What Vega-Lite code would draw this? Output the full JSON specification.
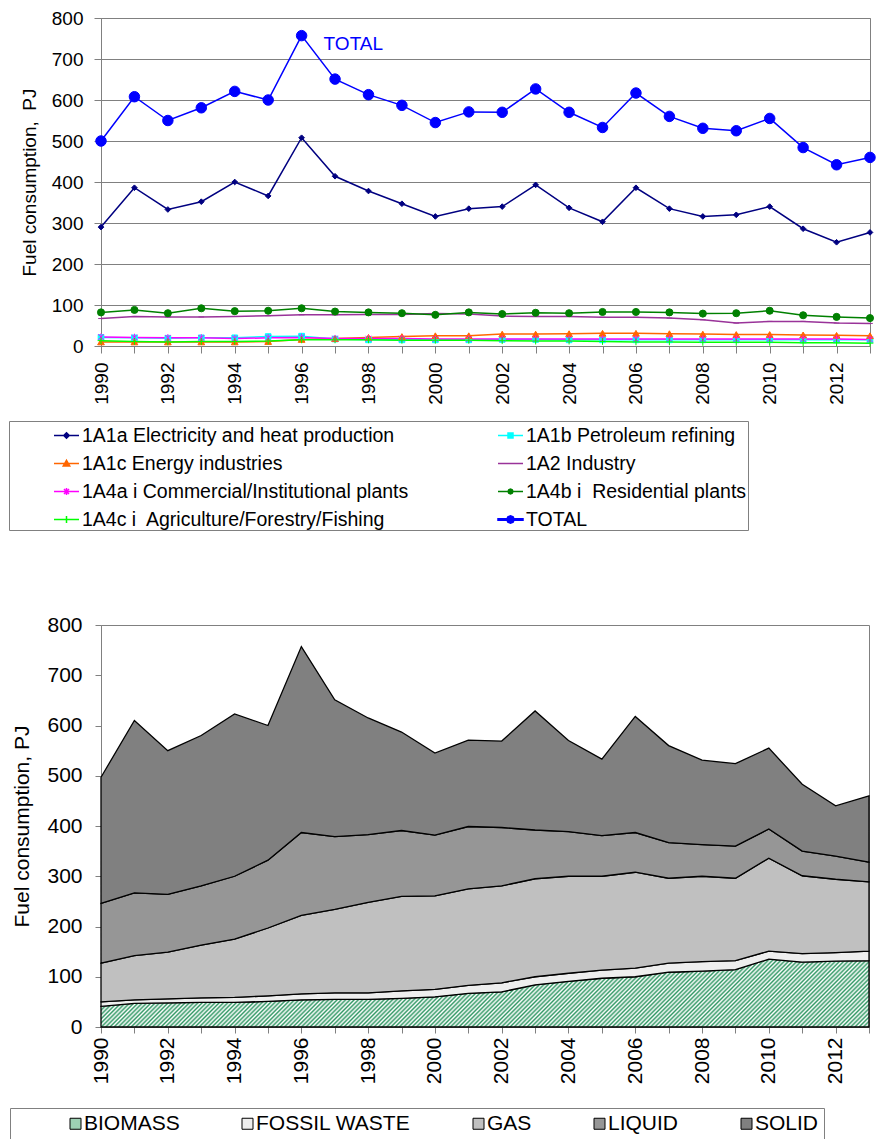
{
 "$schema": "https://vega.github.io/schema/vega-lite/v6.json",
 "padding": {"left": 8, "top": 8, "right": 2, "bottom": 0},
 "bounds": "flush",
 "spacing": 279,
 "resolve": {"scale": {"color": "independent", "stroke": "independent", "shape": "independent", "fill": "independent"}, "legend": {"color": "independent", "stroke": "independent", "shape": "independent", "fill": "independent"}},
 "config": {
  "font": "Liberation Sans",
  "view": {"stroke": "#808080", "strokeWidth": 1},
  "axis": {"labelFont": "Liberation Sans", "titleFont": "Liberation Sans", "labelColor": "#000000", "titleColor": "#000000", "titleFontWeight": "normal", "domainColor": "#808080", "tickColor": "#808080", "labelOverlap": false},
  "legend": {"labelFont": "Liberation Sans", "labelColor": "#000000"}
 },
 "datasets": {
  "fuel": [
   {"year":1990,"series":"1A1a Electricity and heat production","value":290},{"year":1990,"series":"1A1b Petroleum refining","value":21},{"year":1990,"series":"1A1c Energy industries","value":10},{"year":1990,"series":"1A2 Industry","value":67},{"year":1990,"series":"1A4a i Commercial/Institutional plants","value":22},{"year":1990,"series":"1A4b i  Residential plants","value":82},{"year":1990,"series":"1A4c i  Agriculture/Forestry/Fishing","value":13},{"year":1990,"series":"TOTAL","value":500},
   {"year":1991,"series":"1A1a Electricity and heat production","value":386},{"year":1991,"series":"1A1b Petroleum refining","value":20},{"year":1991,"series":"1A1c Energy industries","value":10},{"year":1991,"series":"1A2 Industry","value":72},{"year":1991,"series":"1A4a i Commercial/Institutional plants","value":21},{"year":1991,"series":"1A4b i  Residential plants","value":88},{"year":1991,"series":"1A4c i  Agriculture/Forestry/Fishing","value":11},{"year":1991,"series":"TOTAL","value":608},
   {"year":1992,"series":"1A1a Electricity and heat production","value":333},{"year":1992,"series":"1A1b Petroleum refining","value":19},{"year":1992,"series":"1A1c Energy industries","value":10},{"year":1992,"series":"1A2 Industry","value":71},{"year":1992,"series":"1A4a i Commercial/Institutional plants","value":20},{"year":1992,"series":"1A4b i  Residential plants","value":80},{"year":1992,"series":"1A4c i  Agriculture/Forestry/Fishing","value":10},{"year":1992,"series":"TOTAL","value":550},
   {"year":1993,"series":"1A1a Electricity and heat production","value":352},{"year":1993,"series":"1A1b Petroleum refining","value":20},{"year":1993,"series":"1A1c Energy industries","value":10},{"year":1993,"series":"1A2 Industry","value":71},{"year":1993,"series":"1A4a i Commercial/Institutional plants","value":20},{"year":1993,"series":"1A4b i  Residential plants","value":92},{"year":1993,"series":"1A4c i  Agriculture/Forestry/Fishing","value":11},{"year":1993,"series":"TOTAL","value":581},
   {"year":1994,"series":"1A1a Electricity and heat production","value":400},{"year":1994,"series":"1A1b Petroleum refining","value":20},{"year":1994,"series":"1A1c Energy industries","value":10},{"year":1994,"series":"1A2 Industry","value":72},{"year":1994,"series":"1A4a i Commercial/Institutional plants","value":18},{"year":1994,"series":"1A4b i  Residential plants","value":85},{"year":1994,"series":"1A4c i  Agriculture/Forestry/Fishing","value":11},{"year":1994,"series":"TOTAL","value":621},
   {"year":1995,"series":"1A1a Electricity and heat production","value":366},{"year":1995,"series":"1A1b Petroleum refining","value":23},{"year":1995,"series":"1A1c Energy industries","value":11},{"year":1995,"series":"1A2 Industry","value":74},{"year":1995,"series":"1A4a i Commercial/Institutional plants","value":20},{"year":1995,"series":"1A4b i  Residential plants","value":86},{"year":1995,"series":"1A4c i  Agriculture/Forestry/Fishing","value":12},{"year":1995,"series":"TOTAL","value":600},
   {"year":1996,"series":"1A1a Electricity and heat production","value":508},{"year":1996,"series":"1A1b Petroleum refining","value":24},{"year":1996,"series":"1A1c Energy industries","value":16},{"year":1996,"series":"1A2 Industry","value":76},{"year":1996,"series":"1A4a i Commercial/Institutional plants","value":21},{"year":1996,"series":"1A4b i  Residential plants","value":92},{"year":1996,"series":"1A4c i  Agriculture/Forestry/Fishing","value":15},{"year":1996,"series":"TOTAL","value":757},
   {"year":1997,"series":"1A1a Electricity and heat production","value":414},{"year":1997,"series":"1A1b Petroleum refining","value":17},{"year":1997,"series":"1A1c Energy industries","value":18},{"year":1997,"series":"1A2 Industry","value":76},{"year":1997,"series":"1A4a i Commercial/Institutional plants","value":18},{"year":1997,"series":"1A4b i  Residential plants","value":84},{"year":1997,"series":"1A4c i  Agriculture/Forestry/Fishing","value":15},{"year":1997,"series":"TOTAL","value":651},
   {"year":1998,"series":"1A1a Electricity and heat production","value":378},{"year":1998,"series":"1A1b Petroleum refining","value":15},{"year":1998,"series":"1A1c Energy industries","value":21},{"year":1998,"series":"1A2 Industry","value":77},{"year":1998,"series":"1A4a i Commercial/Institutional plants","value":18},{"year":1998,"series":"1A4b i  Residential plants","value":82},{"year":1998,"series":"1A4c i  Agriculture/Forestry/Fishing","value":15},{"year":1998,"series":"TOTAL","value":613},
   {"year":1999,"series":"1A1a Electricity and heat production","value":347},{"year":1999,"series":"1A1b Petroleum refining","value":15},{"year":1999,"series":"1A1c Energy industries","value":23},{"year":1999,"series":"1A2 Industry","value":77},{"year":1999,"series":"1A4a i Commercial/Institutional plants","value":18},{"year":1999,"series":"1A4b i  Residential plants","value":80},{"year":1999,"series":"1A4c i  Agriculture/Forestry/Fishing","value":14},{"year":1999,"series":"TOTAL","value":587},
   {"year":2000,"series":"1A1a Electricity and heat production","value":316},{"year":2000,"series":"1A1b Petroleum refining","value":15},{"year":2000,"series":"1A1c Energy industries","value":25},{"year":2000,"series":"1A2 Industry","value":79},{"year":2000,"series":"1A4a i Commercial/Institutional plants","value":17},{"year":2000,"series":"1A4b i  Residential plants","value":76},{"year":2000,"series":"1A4c i  Agriculture/Forestry/Fishing","value":14},{"year":2000,"series":"TOTAL","value":545},
   {"year":2001,"series":"1A1a Electricity and heat production","value":335},{"year":2001,"series":"1A1b Petroleum refining","value":15},{"year":2001,"series":"1A1c Energy industries","value":25},{"year":2001,"series":"1A2 Industry","value":78},{"year":2001,"series":"1A4a i Commercial/Institutional plants","value":17},{"year":2001,"series":"1A4b i  Residential plants","value":82},{"year":2001,"series":"1A4c i  Agriculture/Forestry/Fishing","value":14},{"year":2001,"series":"TOTAL","value":571},
   {"year":2002,"series":"1A1a Electricity and heat production","value":340},{"year":2002,"series":"1A1b Petroleum refining","value":16},{"year":2002,"series":"1A1c Energy industries","value":29},{"year":2002,"series":"1A2 Industry","value":73},{"year":2002,"series":"1A4a i Commercial/Institutional plants","value":17},{"year":2002,"series":"1A4b i  Residential plants","value":78},{"year":2002,"series":"1A4c i  Agriculture/Forestry/Fishing","value":13},{"year":2002,"series":"TOTAL","value":570},
   {"year":2003,"series":"1A1a Electricity and heat production","value":393},{"year":2003,"series":"1A1b Petroleum refining","value":16},{"year":2003,"series":"1A1c Energy industries","value":29},{"year":2003,"series":"1A2 Industry","value":72},{"year":2003,"series":"1A4a i Commercial/Institutional plants","value":17},{"year":2003,"series":"1A4b i  Residential plants","value":81},{"year":2003,"series":"1A4c i  Agriculture/Forestry/Fishing","value":12},{"year":2003,"series":"TOTAL","value":627},
   {"year":2004,"series":"1A1a Electricity and heat production","value":337},{"year":2004,"series":"1A1b Petroleum refining","value":15},{"year":2004,"series":"1A1c Energy industries","value":30},{"year":2004,"series":"1A2 Industry","value":72},{"year":2004,"series":"1A4a i Commercial/Institutional plants","value":17},{"year":2004,"series":"1A4b i  Residential plants","value":80},{"year":2004,"series":"1A4c i  Agriculture/Forestry/Fishing","value":12},{"year":2004,"series":"TOTAL","value":570},
   {"year":2005,"series":"1A1a Electricity and heat production","value":303},{"year":2005,"series":"1A1b Petroleum refining","value":15},{"year":2005,"series":"1A1c Energy industries","value":31},{"year":2005,"series":"1A2 Industry","value":70},{"year":2005,"series":"1A4a i Commercial/Institutional plants","value":17},{"year":2005,"series":"1A4b i  Residential plants","value":83},{"year":2005,"series":"1A4c i  Agriculture/Forestry/Fishing","value":11},{"year":2005,"series":"TOTAL","value":533},
   {"year":2006,"series":"1A1a Electricity and heat production","value":386},{"year":2006,"series":"1A1b Petroleum refining","value":15},{"year":2006,"series":"1A1c Energy industries","value":31},{"year":2006,"series":"1A2 Industry","value":70},{"year":2006,"series":"1A4a i Commercial/Institutional plants","value":17},{"year":2006,"series":"1A4b i  Residential plants","value":83},{"year":2006,"series":"1A4c i  Agriculture/Forestry/Fishing","value":10},{"year":2006,"series":"TOTAL","value":617},
   {"year":2007,"series":"1A1a Electricity and heat production","value":335},{"year":2007,"series":"1A1b Petroleum refining","value":15},{"year":2007,"series":"1A1c Energy industries","value":30},{"year":2007,"series":"1A2 Industry","value":68},{"year":2007,"series":"1A4a i Commercial/Institutional plants","value":17},{"year":2007,"series":"1A4b i  Residential plants","value":82},{"year":2007,"series":"1A4c i  Agriculture/Forestry/Fishing","value":10},{"year":2007,"series":"TOTAL","value":560},
   {"year":2008,"series":"1A1a Electricity and heat production","value":316},{"year":2008,"series":"1A1b Petroleum refining","value":15},{"year":2008,"series":"1A1c Energy industries","value":29},{"year":2008,"series":"1A2 Industry","value":64},{"year":2008,"series":"1A4a i Commercial/Institutional plants","value":17},{"year":2008,"series":"1A4b i  Residential plants","value":79},{"year":2008,"series":"1A4c i  Agriculture/Forestry/Fishing","value":9},{"year":2008,"series":"TOTAL","value":531},
   {"year":2009,"series":"1A1a Electricity and heat production","value":320},{"year":2009,"series":"1A1b Petroleum refining","value":15},{"year":2009,"series":"1A1c Energy industries","value":28},{"year":2009,"series":"1A2 Industry","value":56},{"year":2009,"series":"1A4a i Commercial/Institutional plants","value":17},{"year":2009,"series":"1A4b i  Residential plants","value":80},{"year":2009,"series":"1A4c i  Agriculture/Forestry/Fishing","value":9},{"year":2009,"series":"TOTAL","value":525},
   {"year":2010,"series":"1A1a Electricity and heat production","value":340},{"year":2010,"series":"1A1b Petroleum refining","value":15},{"year":2010,"series":"1A1c Energy industries","value":28},{"year":2010,"series":"1A2 Industry","value":60},{"year":2010,"series":"1A4a i Commercial/Institutional plants","value":17},{"year":2010,"series":"1A4b i  Residential plants","value":86},{"year":2010,"series":"1A4c i  Agriculture/Forestry/Fishing","value":9},{"year":2010,"series":"TOTAL","value":555},
   {"year":2011,"series":"1A1a Electricity and heat production","value":286},{"year":2011,"series":"1A1b Petroleum refining","value":15},{"year":2011,"series":"1A1c Energy industries","value":27},{"year":2011,"series":"1A2 Industry","value":60},{"year":2011,"series":"1A4a i Commercial/Institutional plants","value":17},{"year":2011,"series":"1A4b i  Residential plants","value":75},{"year":2011,"series":"1A4c i  Agriculture/Forestry/Fishing","value":8},{"year":2011,"series":"TOTAL","value":484},
   {"year":2012,"series":"1A1a Electricity and heat production","value":253},{"year":2012,"series":"1A1b Petroleum refining","value":15},{"year":2012,"series":"1A1c Energy industries","value":26},{"year":2012,"series":"1A2 Industry","value":56},{"year":2012,"series":"1A4a i Commercial/Institutional plants","value":17},{"year":2012,"series":"1A4b i  Residential plants","value":71},{"year":2012,"series":"1A4c i  Agriculture/Forestry/Fishing","value":8},{"year":2012,"series":"TOTAL","value":442},
   {"year":2013,"series":"1A1a Electricity and heat production","value":277},{"year":2013,"series":"1A1b Petroleum refining","value":15},{"year":2013,"series":"1A1c Energy industries","value":25},{"year":2013,"series":"1A2 Industry","value":55},{"year":2013,"series":"1A4a i Commercial/Institutional plants","value":16},{"year":2013,"series":"1A4b i  Residential plants","value":68},{"year":2013,"series":"1A4c i  Agriculture/Forestry/Fishing","value":7},{"year":2013,"series":"TOTAL","value":460}
  ],
  "mix": [
   {"year":1990,"fuel":"BIOMASS","pj":41},{"year":1990,"fuel":"FOSSIL WASTE","pj":9},{"year":1990,"fuel":"GAS","pj":77},{"year":1990,"fuel":"LIQUID","pj":119},{"year":1990,"fuel":"SOLID","pj":251},
   {"year":1991,"fuel":"BIOMASS","pj":47},{"year":1991,"fuel":"FOSSIL WASTE","pj":7},{"year":1991,"fuel":"GAS","pj":88},{"year":1991,"fuel":"LIQUID","pj":125},{"year":1991,"fuel":"SOLID","pj":343},
   {"year":1992,"fuel":"BIOMASS","pj":48},{"year":1992,"fuel":"FOSSIL WASTE","pj":8},{"year":1992,"fuel":"GAS","pj":93},{"year":1992,"fuel":"LIQUID","pj":115},{"year":1992,"fuel":"SOLID","pj":286},
   {"year":1993,"fuel":"BIOMASS","pj":49},{"year":1993,"fuel":"FOSSIL WASTE","pj":9},{"year":1993,"fuel":"GAS","pj":105},{"year":1993,"fuel":"LIQUID","pj":118},{"year":1993,"fuel":"SOLID","pj":299},
   {"year":1994,"fuel":"BIOMASS","pj":49},{"year":1994,"fuel":"FOSSIL WASTE","pj":10},{"year":1994,"fuel":"GAS","pj":116},{"year":1994,"fuel":"LIQUID","pj":125},{"year":1994,"fuel":"SOLID","pj":323},
   {"year":1995,"fuel":"BIOMASS","pj":51},{"year":1995,"fuel":"FOSSIL WASTE","pj":11},{"year":1995,"fuel":"GAS","pj":135},{"year":1995,"fuel":"LIQUID","pj":135},{"year":1995,"fuel":"SOLID","pj":268},
   {"year":1996,"fuel":"BIOMASS","pj":54},{"year":1996,"fuel":"FOSSIL WASTE","pj":12},{"year":1996,"fuel":"GAS","pj":156},{"year":1996,"fuel":"LIQUID","pj":165},{"year":1996,"fuel":"SOLID","pj":370},
   {"year":1997,"fuel":"BIOMASS","pj":55},{"year":1997,"fuel":"FOSSIL WASTE","pj":13},{"year":1997,"fuel":"GAS","pj":166},{"year":1997,"fuel":"LIQUID","pj":145},{"year":1997,"fuel":"SOLID","pj":272},
   {"year":1998,"fuel":"BIOMASS","pj":55},{"year":1998,"fuel":"FOSSIL WASTE","pj":13},{"year":1998,"fuel":"GAS","pj":180},{"year":1998,"fuel":"LIQUID","pj":135},{"year":1998,"fuel":"SOLID","pj":232},
   {"year":1999,"fuel":"BIOMASS","pj":57},{"year":1999,"fuel":"FOSSIL WASTE","pj":15},{"year":1999,"fuel":"GAS","pj":188},{"year":1999,"fuel":"LIQUID","pj":131},{"year":1999,"fuel":"SOLID","pj":196},
   {"year":2000,"fuel":"BIOMASS","pj":60},{"year":2000,"fuel":"FOSSIL WASTE","pj":15},{"year":2000,"fuel":"GAS","pj":186},{"year":2000,"fuel":"LIQUID","pj":121},{"year":2000,"fuel":"SOLID","pj":163},
   {"year":2001,"fuel":"BIOMASS","pj":67},{"year":2001,"fuel":"FOSSIL WASTE","pj":16},{"year":2001,"fuel":"GAS","pj":192},{"year":2001,"fuel":"LIQUID","pj":124},{"year":2001,"fuel":"SOLID","pj":172},
   {"year":2002,"fuel":"BIOMASS","pj":70},{"year":2002,"fuel":"FOSSIL WASTE","pj":18},{"year":2002,"fuel":"GAS","pj":193},{"year":2002,"fuel":"LIQUID","pj":116},{"year":2002,"fuel":"SOLID","pj":172},
   {"year":2003,"fuel":"BIOMASS","pj":84},{"year":2003,"fuel":"FOSSIL WASTE","pj":16},{"year":2003,"fuel":"GAS","pj":195},{"year":2003,"fuel":"LIQUID","pj":97},{"year":2003,"fuel":"SOLID","pj":237},
   {"year":2004,"fuel":"BIOMASS","pj":91},{"year":2004,"fuel":"FOSSIL WASTE","pj":16},{"year":2004,"fuel":"GAS","pj":193},{"year":2004,"fuel":"LIQUID","pj":89},{"year":2004,"fuel":"SOLID","pj":181},
   {"year":2005,"fuel":"BIOMASS","pj":97},{"year":2005,"fuel":"FOSSIL WASTE","pj":16},{"year":2005,"fuel":"GAS","pj":187},{"year":2005,"fuel":"LIQUID","pj":81},{"year":2005,"fuel":"SOLID","pj":152},
   {"year":2006,"fuel":"BIOMASS","pj":100},{"year":2006,"fuel":"FOSSIL WASTE","pj":17},{"year":2006,"fuel":"GAS","pj":191},{"year":2006,"fuel":"LIQUID","pj":79},{"year":2006,"fuel":"SOLID","pj":231},
   {"year":2007,"fuel":"BIOMASS","pj":109},{"year":2007,"fuel":"FOSSIL WASTE","pj":18},{"year":2007,"fuel":"GAS","pj":169},{"year":2007,"fuel":"LIQUID","pj":71},{"year":2007,"fuel":"SOLID","pj":193},
   {"year":2008,"fuel":"BIOMASS","pj":111},{"year":2008,"fuel":"FOSSIL WASTE","pj":19},{"year":2008,"fuel":"GAS","pj":170},{"year":2008,"fuel":"LIQUID","pj":63},{"year":2008,"fuel":"SOLID","pj":168},
   {"year":2009,"fuel":"BIOMASS","pj":114},{"year":2009,"fuel":"FOSSIL WASTE","pj":18},{"year":2009,"fuel":"GAS","pj":164},{"year":2009,"fuel":"LIQUID","pj":64},{"year":2009,"fuel":"SOLID","pj":164},
   {"year":2010,"fuel":"BIOMASS","pj":135},{"year":2010,"fuel":"FOSSIL WASTE","pj":16},{"year":2010,"fuel":"GAS","pj":185},{"year":2010,"fuel":"LIQUID","pj":58},{"year":2010,"fuel":"SOLID","pj":161},
   {"year":2011,"fuel":"BIOMASS","pj":129},{"year":2011,"fuel":"FOSSIL WASTE","pj":17},{"year":2011,"fuel":"GAS","pj":155},{"year":2011,"fuel":"LIQUID","pj":49},{"year":2011,"fuel":"SOLID","pj":133},
   {"year":2012,"fuel":"BIOMASS","pj":131},{"year":2012,"fuel":"FOSSIL WASTE","pj":17},{"year":2012,"fuel":"GAS","pj":146},{"year":2012,"fuel":"LIQUID","pj":46},{"year":2012,"fuel":"SOLID","pj":100},
   {"year":2013,"fuel":"BIOMASS","pj":132},{"year":2013,"fuel":"FOSSIL WASTE","pj":19},{"year":2013,"fuel":"GAS","pj":138},{"year":2013,"fuel":"LIQUID","pj":39},{"year":2013,"fuel":"SOLID","pj":132}
  ]
 },
 "vconcat": [
  {
   "width": 769,
   "height": 328,
   "data": {"name": "fuel"},
   "resolve": {"scale": {"color": "independent", "stroke": "independent", "shape": "independent"}},
   "encoding": {
    "x": {"field": "year", "type": "quantitative", "scale": {"domain": [1990, 2013], "nice": false, "zero": false},
     "axis": {"values": [1990,1991,1992,1993,1994,1995,1996,1997,1998,1999,2000,2001,2002,2003,2004,2005,2006,2007,2008,2009,2010,2011,2012,2013], "format": "d", "labelExpr": "datum.value % 2 === 0 ? datum.label : ''", "labelAngle": -90, "labelFontSize": 19, "tickSize": 7, "labelPadding": 9, "grid": false, "title": null}},
    "y": {"field": "value", "type": "quantitative", "scale": {"domain": [0, 800], "nice": false},
     "axis": {"values": [0,100,200,300,400,500,600,700,800], "grid": true, "gridColor": "#808080", "labelFontSize": 19, "tickSize": 7, "labelPadding": 11, "title": "Fuel consumption,\u00a0 PJ", "titleFontSize": 19, "titlePadding": 12}},
    "color": {"field": "series", "type": "nominal",
     "scale": {"domain": ["1A1a Electricity and heat production","1A1b Petroleum refining","1A1c Energy industries","1A2 Industry","1A4a i Commercial/Institutional plants","1A4b i  Residential plants","1A4c i  Agriculture/Forestry/Fishing","TOTAL"],
               "range": ["#000080","#00FFFF","#FF6600","#993399","#FF00FF","#008000","#00FF00","#0000FF"]},
     "legend": null}
   },
   "layer": [
    {"mark": {"type": "line", "strokeWidth": 1.5},
     "encoding": {"strokeWidth": {"condition": {"test": "datum.series === 'TOTAL'", "value": 3}, "value": 1.5}}},
    {"mark": {"type": "point", "filled": true, "opacity": 1, "strokeWidth": 1},
     "encoding": {
      "stroke": {"field": "series", "type": "nominal", "legend": null,
       "scale": {"domain": ["1A1a Electricity and heat production","1A1b Petroleum refining","1A1c Energy industries","1A2 Industry","1A4a i Commercial/Institutional plants","1A4b i  Residential plants","1A4c i  Agriculture/Forestry/Fishing","TOTAL"],
                 "range": ["#000080","#00FFFF","#FF6600","#993399","#FF00FF","#008000","#00FF00","#0000FF"]}},
      "shape": {"field": "series", "type": "nominal", "legend": null,
       "scale": {"domain": ["1A1a Electricity and heat production","1A1b Petroleum refining","1A1c Energy industries","1A2 Industry","1A4a i Commercial/Institutional plants","1A4b i  Residential plants","1A4c i  Agriculture/Forestry/Fishing","TOTAL"],
                 "range": ["diamond","square","triangle-up","stroke","M-1,-1L1,1M-1,1L1,-1M0,-1.3V1.3","circle","M-1.2,0H1.2M0,-1.2V1.2","circle"]}},
      "size": {"condition": [
        {"test": "datum.series === 'TOTAL'", "value": 110},
        {"test": "datum.series === '1A4b i  Residential plants'", "value": 50},
        {"test": "datum.series === '1A1c Energy industries'", "value": 45}
       ], "value": 32}
     }},
    {"transform": [{"filter": "datum.series === 'TOTAL' && datum.year === 1996"}],
     "mark": {"type": "text", "align": "left", "baseline": "middle", "dx": 22, "dy": 8, "fontSize": 19, "font": "Liberation Sans"},
     "encoding": {"text": {"field": "series"}}},
    {"transform": [{"filter": "datum.year < 0"}],
     "mark": {"type": "point", "filled": true, "opacity": 1, "strokeWidth": 1.5},
     "encoding": {
      "color": {"field": "series", "type": "nominal",
       "scale": {"domain": ["1A1a Electricity and heat production","1A1b Petroleum refining","1A1c Energy industries","1A2 Industry","1A4a i Commercial/Institutional plants","1A4b i  Residential plants","1A4c i  Agriculture/Forestry/Fishing","TOTAL"],
                 "range": ["#000080","#00FFFF","#FF6600","#993399","#FF00FF","#008000","#00FF00","#0000FF"]},
       "legend": {"title": null, "orient": "none", "legendX": -92, "legendY": 403, "direction": "horizontal", "columns": 2,
        "padding": 1, "strokeColor": "#808080", "fillColor": "#ffffff",
        "labelFontSize": 19.5, "labelLimit": 900, "symbolSize": 625, "symbolStrokeWidth": 1.5, "symbolOffset": 43, "labelOffset": 2,
        "rowPadding": 5, "columnPadding": 45,
        "labelExpr": "replace(datum.label, '  ', '\u00a0 ')"}},
      "stroke": {"field": "series", "type": "nominal",
       "scale": {"domain": ["1A1a Electricity and heat production","1A1b Petroleum refining","1A1c Energy industries","1A2 Industry","1A4a i Commercial/Institutional plants","1A4b i  Residential plants","1A4c i  Agriculture/Forestry/Fishing","TOTAL"],
                 "range": ["#000080","#00FFFF","#FF6600","#993399","#FF00FF","#008000","#00FF00","#0000FF"]}},
      "shape": {"field": "series", "type": "nominal",
       "scale": {"domain": ["1A1a Electricity and heat production","1A1b Petroleum refining","1A1c Energy industries","1A2 Industry","1A4a i Commercial/Institutional plants","1A4b i  Residential plants","1A4c i  Agriculture/Forestry/Fishing","TOTAL"],
                 "range": [
                  "M-1,0H1M0,-0.22L0.22,0L0,0.22L-0.22,0Z",
                  "M-1,0H1M-0.2,-0.2H0.2V0.2H-0.2Z",
                  "M-1,0H1M0,-0.26L0.26,0.2H-0.26Z",
                  "M-1,0H1",
                  "M-1,0H1M-0.2,-0.2L0.2,0.2M-0.2,0.2L0.2,-0.2M0,-0.28V0.28",
                  "M-1,0H1M0.2,0L0.14,0.14L0,0.2L-0.14,0.14L-0.2,0L-0.14,-0.14L0,-0.2L0.14,-0.14Z",
                  "M-1,0H1M0,-0.28V0.28",
                  "M-1,-0.06H1V0.06H-1ZM0.3,0L0.21,0.21L0,0.3L-0.21,0.21L-0.3,0L-0.21,-0.21L0,-0.3L0.21,-0.21Z"
                 ]}}
     }}
   ]
  },
  {
   "width": 768,
   "height": 402,
   "data": {"name": "mix"},
   "mark": {"type": "area", "stroke": "#000000", "strokeWidth": 1.3, "opacity": 1},
   "encoding": {
    "x": {"field": "year", "type": "quantitative", "scale": {"domain": [1990, 2013], "nice": false, "zero": false},
     "axis": {"values": [1990,1991,1992,1993,1994,1995,1996,1997,1998,1999,2000,2001,2002,2003,2004,2005,2006,2007,2008,2009,2010,2011,2012,2013], "format": "d", "labelExpr": "datum.value % 2 === 0 ? datum.label : ''", "labelAngle": -90, "labelFontSize": 21, "tickSize": 6, "labelPadding": 4, "grid": false, "title": null}},
    "y": {"field": "pj", "type": "quantitative", "stack": "zero", "scale": {"domain": [0, 800], "nice": false},
     "axis": {"values": [0,100,200,300,400,500,600,700,800], "grid": false, "labelFontSize": 21, "tickSize": 6, "labelPadding": 13, "title": "Fuel consumption, PJ", "titleFontSize": 21, "titlePadding": 14}},
    "order": {"field": "fuel", "type": "ordinal", "sort": "ascending"},
    "fill": {
     "condition": {"test": "datum.fuel === 'BIOMASS'", "value": {"gradient": "linear", "x1": 0, "y1": 0, "x2": 1.1, "y2": 0.097, "stops": [
      {"offset":0,"color":"#396"},{"offset":0.0025,"color":"#fff"},{"offset":0.005,"color":"#396"},{"offset":0.0075,"color":"#fff"},
      {"offset":0.01,"color":"#396"},{"offset":0.0125,"color":"#fff"},{"offset":0.015,"color":"#396"},{"offset":0.0175,"color":"#fff"},
      {"offset":0.02,"color":"#396"},{"offset":0.0225,"color":"#fff"},{"offset":0.025,"color":"#396"},{"offset":0.0275,"color":"#fff"},
      {"offset":0.03,"color":"#396"},{"offset":0.0325,"color":"#fff"},{"offset":0.035,"color":"#396"},{"offset":0.0375,"color":"#fff"},
      {"offset":0.04,"color":"#396"},{"offset":0.0425,"color":"#fff"},{"offset":0.045,"color":"#396"},{"offset":0.0475,"color":"#fff"},
      {"offset":0.05,"color":"#396"},{"offset":0.0525,"color":"#fff"},{"offset":0.055,"color":"#396"},{"offset":0.0575,"color":"#fff"},
      {"offset":0.06,"color":"#396"},{"offset":0.0625,"color":"#fff"},{"offset":0.065,"color":"#396"},{"offset":0.0675,"color":"#fff"},
      {"offset":0.07,"color":"#396"},{"offset":0.0725,"color":"#fff"},{"offset":0.075,"color":"#396"},{"offset":0.0775,"color":"#fff"},
      {"offset":0.08,"color":"#396"},{"offset":0.0825,"color":"#fff"},{"offset":0.085,"color":"#396"},{"offset":0.0875,"color":"#fff"},
      {"offset":0.09,"color":"#396"},{"offset":0.0925,"color":"#fff"},{"offset":0.095,"color":"#396"},{"offset":0.0975,"color":"#fff"},
      {"offset":0.10,"color":"#396"},{"offset":0.1025,"color":"#fff"},{"offset":0.105,"color":"#396"},{"offset":0.1075,"color":"#fff"},
      {"offset":0.11,"color":"#396"},{"offset":0.1125,"color":"#fff"},{"offset":0.115,"color":"#396"},{"offset":0.1175,"color":"#fff"},
      {"offset":0.12,"color":"#396"},{"offset":0.1225,"color":"#fff"},{"offset":0.125,"color":"#396"},{"offset":0.1275,"color":"#fff"},
      {"offset":0.13,"color":"#396"},{"offset":0.1325,"color":"#fff"},{"offset":0.135,"color":"#396"},{"offset":0.1375,"color":"#fff"},
      {"offset":0.14,"color":"#396"},{"offset":0.1425,"color":"#fff"},{"offset":0.145,"color":"#396"},{"offset":0.1475,"color":"#fff"},
      {"offset":0.15,"color":"#396"},{"offset":0.1525,"color":"#fff"},{"offset":0.155,"color":"#396"},{"offset":0.1575,"color":"#fff"},
      {"offset":0.16,"color":"#396"},{"offset":0.1625,"color":"#fff"},{"offset":0.165,"color":"#396"},{"offset":0.1675,"color":"#fff"},
      {"offset":0.17,"color":"#396"},{"offset":0.1725,"color":"#fff"},{"offset":0.175,"color":"#396"},{"offset":0.1775,"color":"#fff"},
      {"offset":0.18,"color":"#396"},{"offset":0.1825,"color":"#fff"},{"offset":0.185,"color":"#396"},{"offset":0.1875,"color":"#fff"},
      {"offset":0.19,"color":"#396"},{"offset":0.1925,"color":"#fff"},{"offset":0.195,"color":"#396"},{"offset":0.1975,"color":"#fff"},
      {"offset":0.20,"color":"#396"},{"offset":0.2025,"color":"#fff"},{"offset":0.205,"color":"#396"},{"offset":0.2075,"color":"#fff"},
      {"offset":0.21,"color":"#396"},{"offset":0.2125,"color":"#fff"},{"offset":0.215,"color":"#396"},{"offset":0.2175,"color":"#fff"},
      {"offset":0.22,"color":"#396"},{"offset":0.2225,"color":"#fff"},{"offset":0.225,"color":"#396"},{"offset":0.2275,"color":"#fff"},
      {"offset":0.23,"color":"#396"},{"offset":0.2325,"color":"#fff"},{"offset":0.235,"color":"#396"},{"offset":0.2375,"color":"#fff"},
      {"offset":0.24,"color":"#396"},{"offset":0.2425,"color":"#fff"},{"offset":0.245,"color":"#396"},{"offset":0.2475,"color":"#fff"},
      {"offset":0.25,"color":"#396"},{"offset":0.2525,"color":"#fff"},{"offset":0.255,"color":"#396"},{"offset":0.2575,"color":"#fff"},
      {"offset":0.26,"color":"#396"},{"offset":0.2625,"color":"#fff"},{"offset":0.265,"color":"#396"},{"offset":0.2675,"color":"#fff"},
      {"offset":0.27,"color":"#396"},{"offset":0.2725,"color":"#fff"},{"offset":0.275,"color":"#396"},{"offset":0.2775,"color":"#fff"},
      {"offset":0.28,"color":"#396"},{"offset":0.2825,"color":"#fff"},{"offset":0.285,"color":"#396"},{"offset":0.2875,"color":"#fff"},
      {"offset":0.29,"color":"#396"},{"offset":0.2925,"color":"#fff"},{"offset":0.295,"color":"#396"},{"offset":0.2975,"color":"#fff"},
      {"offset":0.30,"color":"#396"},{"offset":0.3025,"color":"#fff"},{"offset":0.305,"color":"#396"},{"offset":0.3075,"color":"#fff"},
      {"offset":0.31,"color":"#396"},{"offset":0.3125,"color":"#fff"},{"offset":0.315,"color":"#396"},{"offset":0.3175,"color":"#fff"},
      {"offset":0.32,"color":"#396"},{"offset":0.3225,"color":"#fff"},{"offset":0.325,"color":"#396"},{"offset":0.3275,"color":"#fff"},
      {"offset":0.33,"color":"#396"},{"offset":0.3325,"color":"#fff"},{"offset":0.335,"color":"#396"},{"offset":0.3375,"color":"#fff"},
      {"offset":0.34,"color":"#396"},{"offset":0.3425,"color":"#fff"},{"offset":0.345,"color":"#396"},{"offset":0.3475,"color":"#fff"},
      {"offset":0.35,"color":"#396"},{"offset":0.3525,"color":"#fff"},{"offset":0.355,"color":"#396"},{"offset":0.3575,"color":"#fff"},
      {"offset":0.36,"color":"#396"},{"offset":0.3625,"color":"#fff"},{"offset":0.365,"color":"#396"},{"offset":0.3675,"color":"#fff"},
      {"offset":0.37,"color":"#396"},{"offset":0.3725,"color":"#fff"},{"offset":0.375,"color":"#396"},{"offset":0.3775,"color":"#fff"},
      {"offset":0.38,"color":"#396"},{"offset":0.3825,"color":"#fff"},{"offset":0.385,"color":"#396"},{"offset":0.3875,"color":"#fff"},
      {"offset":0.39,"color":"#396"},{"offset":0.3925,"color":"#fff"},{"offset":0.395,"color":"#396"},{"offset":0.3975,"color":"#fff"},
      {"offset":0.40,"color":"#396"},{"offset":0.4025,"color":"#fff"},{"offset":0.405,"color":"#396"},{"offset":0.4075,"color":"#fff"},
      {"offset":0.41,"color":"#396"},{"offset":0.4125,"color":"#fff"},{"offset":0.415,"color":"#396"},{"offset":0.4175,"color":"#fff"},
      {"offset":0.42,"color":"#396"},{"offset":0.4225,"color":"#fff"},{"offset":0.425,"color":"#396"},{"offset":0.4275,"color":"#fff"},
      {"offset":0.43,"color":"#396"},{"offset":0.4325,"color":"#fff"},{"offset":0.435,"color":"#396"},{"offset":0.4375,"color":"#fff"},
      {"offset":0.44,"color":"#396"},{"offset":0.4425,"color":"#fff"},{"offset":0.445,"color":"#396"},{"offset":0.4475,"color":"#fff"},
      {"offset":0.45,"color":"#396"},{"offset":0.4525,"color":"#fff"},{"offset":0.455,"color":"#396"},{"offset":0.4575,"color":"#fff"},
      {"offset":0.46,"color":"#396"},{"offset":0.4625,"color":"#fff"},{"offset":0.465,"color":"#396"},{"offset":0.4675,"color":"#fff"},
      {"offset":0.47,"color":"#396"},{"offset":0.4725,"color":"#fff"},{"offset":0.475,"color":"#396"},{"offset":0.4775,"color":"#fff"},
      {"offset":0.48,"color":"#396"},{"offset":0.4825,"color":"#fff"},{"offset":0.485,"color":"#396"},{"offset":0.4875,"color":"#fff"},
      {"offset":0.49,"color":"#396"},{"offset":0.4925,"color":"#fff"},{"offset":0.495,"color":"#396"},{"offset":0.4975,"color":"#fff"},
      {"offset":0.50,"color":"#396"},{"offset":0.5025,"color":"#fff"},{"offset":0.505,"color":"#396"},{"offset":0.5075,"color":"#fff"},
      {"offset":0.51,"color":"#396"},{"offset":0.5125,"color":"#fff"},{"offset":0.515,"color":"#396"},{"offset":0.5175,"color":"#fff"},
      {"offset":0.52,"color":"#396"},{"offset":0.5225,"color":"#fff"},{"offset":0.525,"color":"#396"},{"offset":0.5275,"color":"#fff"},
      {"offset":0.53,"color":"#396"},{"offset":0.5325,"color":"#fff"},{"offset":0.535,"color":"#396"},{"offset":0.5375,"color":"#fff"},
      {"offset":0.54,"color":"#396"},{"offset":0.5425,"color":"#fff"},{"offset":0.545,"color":"#396"},{"offset":0.5475,"color":"#fff"},
      {"offset":0.55,"color":"#396"},{"offset":0.5525,"color":"#fff"},{"offset":0.555,"color":"#396"},{"offset":0.5575,"color":"#fff"},
      {"offset":0.56,"color":"#396"},{"offset":0.5625,"color":"#fff"},{"offset":0.565,"color":"#396"},{"offset":0.5675,"color":"#fff"},
      {"offset":0.57,"color":"#396"},{"offset":0.5725,"color":"#fff"},{"offset":0.575,"color":"#396"},{"offset":0.5775,"color":"#fff"},
      {"offset":0.58,"color":"#396"},{"offset":0.5825,"color":"#fff"},{"offset":0.585,"color":"#396"},{"offset":0.5875,"color":"#fff"},
      {"offset":0.59,"color":"#396"},{"offset":0.5925,"color":"#fff"},{"offset":0.595,"color":"#396"},{"offset":0.5975,"color":"#fff"},
      {"offset":0.60,"color":"#396"},{"offset":0.6025,"color":"#fff"},{"offset":0.605,"color":"#396"},{"offset":0.6075,"color":"#fff"},
      {"offset":0.61,"color":"#396"},{"offset":0.6125,"color":"#fff"},{"offset":0.615,"color":"#396"},{"offset":0.6175,"color":"#fff"},
      {"offset":0.62,"color":"#396"},{"offset":0.6225,"color":"#fff"},{"offset":0.625,"color":"#396"},{"offset":0.6275,"color":"#fff"},
      {"offset":0.63,"color":"#396"},{"offset":0.6325,"color":"#fff"},{"offset":0.635,"color":"#396"},{"offset":0.6375,"color":"#fff"},
      {"offset":0.64,"color":"#396"},{"offset":0.6425,"color":"#fff"},{"offset":0.645,"color":"#396"},{"offset":0.6475,"color":"#fff"},
      {"offset":0.65,"color":"#396"},{"offset":0.6525,"color":"#fff"},{"offset":0.655,"color":"#396"},{"offset":0.6575,"color":"#fff"},
      {"offset":0.66,"color":"#396"},{"offset":0.6625,"color":"#fff"},{"offset":0.665,"color":"#396"},{"offset":0.6675,"color":"#fff"},
      {"offset":0.67,"color":"#396"},{"offset":0.6725,"color":"#fff"},{"offset":0.675,"color":"#396"},{"offset":0.6775,"color":"#fff"},
      {"offset":0.68,"color":"#396"},{"offset":0.6825,"color":"#fff"},{"offset":0.685,"color":"#396"},{"offset":0.6875,"color":"#fff"},
      {"offset":0.69,"color":"#396"},{"offset":0.6925,"color":"#fff"},{"offset":0.695,"color":"#396"},{"offset":0.6975,"color":"#fff"},
      {"offset":0.70,"color":"#396"},{"offset":0.7025,"color":"#fff"},{"offset":0.705,"color":"#396"},{"offset":0.7075,"color":"#fff"},
      {"offset":0.71,"color":"#396"},{"offset":0.7125,"color":"#fff"},{"offset":0.715,"color":"#396"},{"offset":0.7175,"color":"#fff"},
      {"offset":0.72,"color":"#396"},{"offset":0.7225,"color":"#fff"},{"offset":0.725,"color":"#396"},{"offset":0.7275,"color":"#fff"},
      {"offset":0.73,"color":"#396"},{"offset":0.7325,"color":"#fff"},{"offset":0.735,"color":"#396"},{"offset":0.7375,"color":"#fff"},
      {"offset":0.74,"color":"#396"},{"offset":0.7425,"color":"#fff"},{"offset":0.745,"color":"#396"},{"offset":0.7475,"color":"#fff"},
      {"offset":0.75,"color":"#396"},{"offset":0.7525,"color":"#fff"},{"offset":0.755,"color":"#396"},{"offset":0.7575,"color":"#fff"},
      {"offset":0.76,"color":"#396"},{"offset":0.7625,"color":"#fff"},{"offset":0.765,"color":"#396"},{"offset":0.7675,"color":"#fff"},
      {"offset":0.77,"color":"#396"},{"offset":0.7725,"color":"#fff"},{"offset":0.775,"color":"#396"},{"offset":0.7775,"color":"#fff"},
      {"offset":0.78,"color":"#396"},{"offset":0.7825,"color":"#fff"},{"offset":0.785,"color":"#396"},{"offset":0.7875,"color":"#fff"},
      {"offset":0.79,"color":"#396"},{"offset":0.7925,"color":"#fff"},{"offset":0.795,"color":"#396"},{"offset":0.7975,"color":"#fff"},
      {"offset":0.80,"color":"#396"},{"offset":0.8025,"color":"#fff"},{"offset":0.805,"color":"#396"},{"offset":0.8075,"color":"#fff"},
      {"offset":0.81,"color":"#396"},{"offset":0.8125,"color":"#fff"},{"offset":0.815,"color":"#396"},{"offset":0.8175,"color":"#fff"},
      {"offset":0.82,"color":"#396"},{"offset":0.8225,"color":"#fff"},{"offset":0.825,"color":"#396"},{"offset":0.8275,"color":"#fff"},
      {"offset":0.83,"color":"#396"},{"offset":0.8325,"color":"#fff"},{"offset":0.835,"color":"#396"},{"offset":0.8375,"color":"#fff"},
      {"offset":0.84,"color":"#396"},{"offset":0.8425,"color":"#fff"},{"offset":0.845,"color":"#396"},{"offset":0.8475,"color":"#fff"},
      {"offset":0.85,"color":"#396"},{"offset":0.8525,"color":"#fff"},{"offset":0.855,"color":"#396"},{"offset":0.8575,"color":"#fff"},
      {"offset":0.86,"color":"#396"},{"offset":0.8625,"color":"#fff"},{"offset":0.865,"color":"#396"},{"offset":0.8675,"color":"#fff"},
      {"offset":0.87,"color":"#396"},{"offset":0.8725,"color":"#fff"},{"offset":0.875,"color":"#396"},{"offset":0.8775,"color":"#fff"},
      {"offset":0.88,"color":"#396"},{"offset":0.8825,"color":"#fff"},{"offset":0.885,"color":"#396"},{"offset":0.8875,"color":"#fff"},
      {"offset":0.89,"color":"#396"},{"offset":0.8925,"color":"#fff"},{"offset":0.895,"color":"#396"},{"offset":0.8975,"color":"#fff"},
      {"offset":0.90,"color":"#396"},{"offset":0.9025,"color":"#fff"},{"offset":0.905,"color":"#396"},{"offset":0.9075,"color":"#fff"},
      {"offset":0.91,"color":"#396"},{"offset":0.9125,"color":"#fff"},{"offset":0.915,"color":"#396"},{"offset":0.9175,"color":"#fff"},
      {"offset":0.92,"color":"#396"},{"offset":0.9225,"color":"#fff"},{"offset":0.925,"color":"#396"},{"offset":0.9275,"color":"#fff"},
      {"offset":0.93,"color":"#396"},{"offset":0.9325,"color":"#fff"},{"offset":0.935,"color":"#396"},{"offset":0.9375,"color":"#fff"},
      {"offset":0.94,"color":"#396"},{"offset":0.9425,"color":"#fff"},{"offset":0.945,"color":"#396"},{"offset":0.9475,"color":"#fff"},
      {"offset":0.95,"color":"#396"},{"offset":0.9525,"color":"#fff"},{"offset":0.955,"color":"#396"},{"offset":0.9575,"color":"#fff"},
      {"offset":0.96,"color":"#396"},{"offset":0.9625,"color":"#fff"},{"offset":0.965,"color":"#396"},{"offset":0.9675,"color":"#fff"},
      {"offset":0.97,"color":"#396"},{"offset":0.9725,"color":"#fff"},{"offset":0.975,"color":"#396"},{"offset":0.9775,"color":"#fff"},
      {"offset":0.98,"color":"#396"},{"offset":0.9825,"color":"#fff"},{"offset":0.985,"color":"#396"},{"offset":0.9875,"color":"#fff"},
      {"offset":0.99,"color":"#396"},{"offset":0.9925,"color":"#fff"},{"offset":0.995,"color":"#396"},{"offset":0.9975,"color":"#fff"},
      {"offset":1,"color":"#396"}
     ]}},
     "field": "fuel", "type": "nominal",
     "scale": {"domain": ["BIOMASS","FOSSIL WASTE","GAS","LIQUID","SOLID"], "range": ["#9DD0B4","#EEEEEE","#C0C0C0","#969696","#808080"]},
     "legend": {"title": null, "orient": "none", "legendX": -91, "legendY": 483, "direction": "horizontal",
      "padding": 5, "strokeColor": "#808080", "fillColor": "#ffffff",
      "labelFontSize": 21, "labelLimit": 600, "symbolType": "square", "symbolSize": 121,
      "symbolStrokeColor": "#000000", "symbolStrokeWidth": 1,
      "symbolOffset": 50, "labelOffset": -2, "columnPadding": 7}}
   }
  }
 ]
}
